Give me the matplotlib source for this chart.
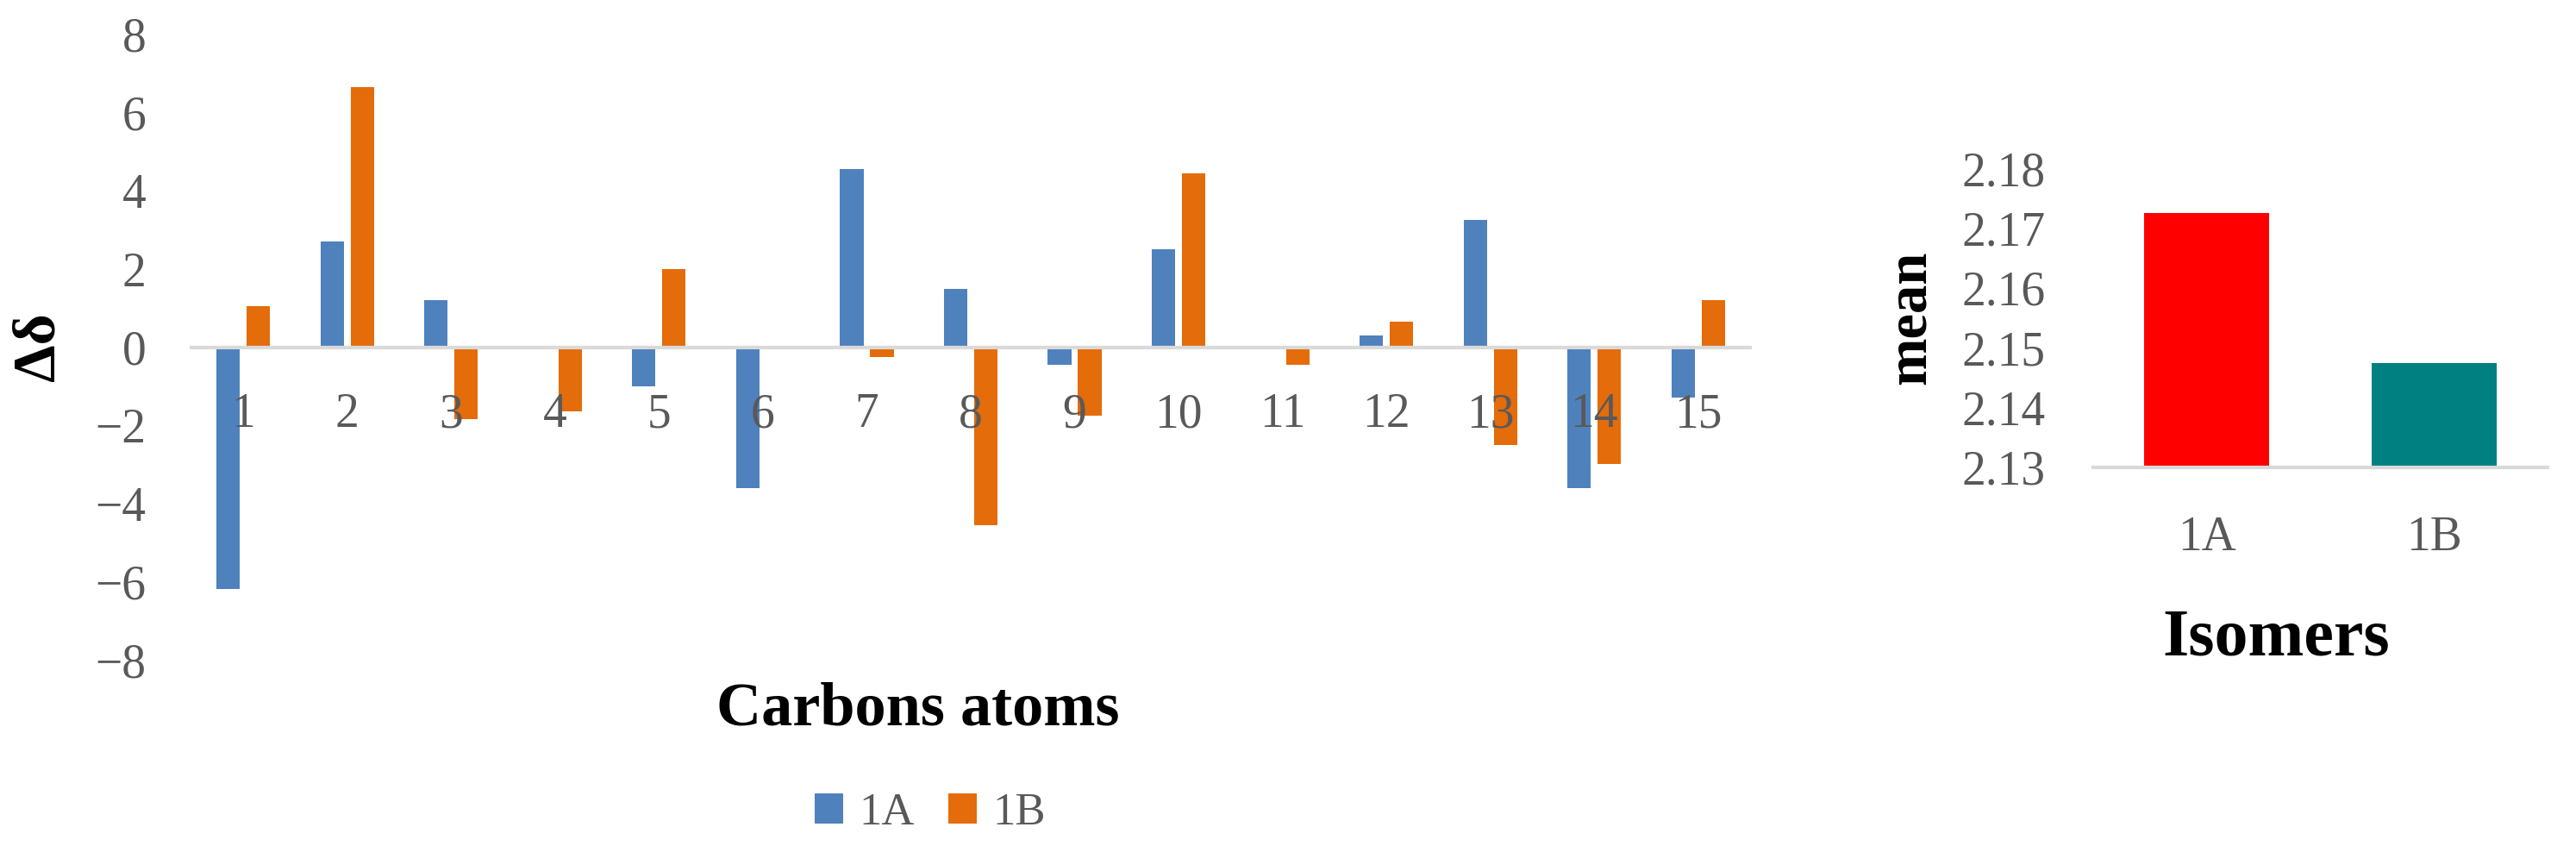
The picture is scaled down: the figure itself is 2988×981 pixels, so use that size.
import matplotlib
matplotlib.use("Agg")
import matplotlib.pyplot as plt
import numpy as np

# ---- data ----
carbons = [str(i) for i in range(1, 16)]
delta_1A = [-6.2, 2.7, 1.2, 0.0, -1.0, -3.6, 4.55, 1.5, -0.45, 2.5, 0.0, 0.3, 3.25, -3.6, -1.3]
delta_1B = [1.05, 6.65, -1.85, -1.65, 2.0, 0.0, -0.25, -4.55, -1.75, 4.45, -0.45, 0.65, -2.5, -3.0, 1.2]
series_names = ["1A", "1B"]
left_yticks = [-8, -6, -4, -2, 0, 2, 4, 6, 8]

isomers = ["1A", "1B"]
mean_values = [2.1725, 2.1475]
right_yticks = [2.13, 2.14, 2.15, 2.16, 2.17, 2.18]

# ---- style ----
SERIF = "Liberation Serif"
TICK_COLOR = "#595959"
AXIS_COLOR = "#d9d9d9"
C_1A = "#4F81BD"
C_1B = "#E46C0A"
TICK_FS = 40
W, H = 2988, 981

plt.rcParams["font.family"] = [SERIF, "DejaVu Serif"]
plt.rcParams["axes.unicode_minus"] = True

fig = plt.figure(figsize=(W / 100, H / 100), dpi=100)

def fx(px):
    return px / W

def fy(py):
    return 1 - py / H

# ---- left chart ----
axL = fig.add_axes([fx(222), fy(765), fx(2030) - fx(222), fy(40) - fy(765)])
x = np.arange(len(carbons))
bw = 0.225
off = 0.145
b1 = axL.bar(x - off, delta_1A, width=bw, color=C_1A, label=series_names[0], zorder=1)
b2 = axL.bar(x + off, delta_1B, width=bw, color=C_1B, label=series_names[1], zorder=1)
axL.set_xlim(-0.5, len(carbons) - 0.5)
axL.set_ylim(-8, 8)
axL.set_yticks(left_yticks)
axL.set_yticklabels([f"{v:d}".replace("-", "\u2212") for v in left_yticks])
axL.set_xticks(x)
axL.set_xticklabels(carbons)
for s in ["top", "right", "left"]:
    axL.spines[s].set_visible(False)
axL.spines["bottom"].set_position(("data", 0))
axL.spines["bottom"].set_color(AXIS_COLOR)
axL.spines["bottom"].set_linewidth(3)
axL.spines["bottom"].set_zorder(3)
axL.tick_params(axis="both", length=0, labelsize=TICK_FS, labelcolor=TICK_COLOR)
axL.tick_params(axis="x", pad=38)
axL.tick_params(axis="y", pad=38)

fig.text(fx(46), fy(402), "\u0394\u03b4", rotation=90, ha="center", va="center",
         fontsize=50, fontweight="bold", color="black")
fig.text(fx(1065), fy(823), "Carbons atoms", ha="center", va="center",
         fontsize=52, fontweight="bold", color="black")

fig.legend(handles=[b1, b2], labels=series_names, loc="center",
           bbox_to_anchor=(fx(1079), fy(943)), ncol=2, frameon=False,
           fontsize=38, handlelength=0.62, handleheight=0.62,
           handletextpad=0.35, columnspacing=0.75, labelcolor=TICK_COLOR)

# ---- right chart ----
axR = fig.add_axes([fx(2428), fy(542), fx(2955) - fx(2428), fy(195) - fy(542)])
xr = np.arange(len(isomers))
axR.bar(xr, [m - right_yticks[0] for m in mean_values], bottom=right_yticks[0],
        width=0.55, color=["#FF0000", "#008080"], zorder=1)
axR.set_xlim(-0.5, len(isomers) - 0.5)
axR.set_ylim(right_yticks[0], right_yticks[-1])
axR.set_yticks(right_yticks)
axR.set_yticklabels([f"{v:.2f}" for v in right_yticks])
axR.set_xticks(xr)
axR.set_xticklabels(isomers)
for s in ["top", "right", "left"]:
    axR.spines[s].set_visible(False)
axR.spines["bottom"].set_color(AXIS_COLOR)
axR.spines["bottom"].set_linewidth(3)
axR.spines["bottom"].set_zorder(3)
axR.tick_params(axis="both", length=0, labelsize=TICK_FS, labelcolor=TICK_COLOR)
axR.tick_params(axis="x", pad=40)
axR.tick_params(axis="y", pad=40)

fig.text(fx(2216), fy(368), "mean", rotation=90, ha="center", va="center",
         fontsize=48, fontweight="bold", color="black")
fig.text(fx(2640), fy(741), "Isomers", ha="center", va="center",
         fontsize=56, fontweight="bold", color="black")

fig.savefig("out.png", dpi=100, facecolor="white")
